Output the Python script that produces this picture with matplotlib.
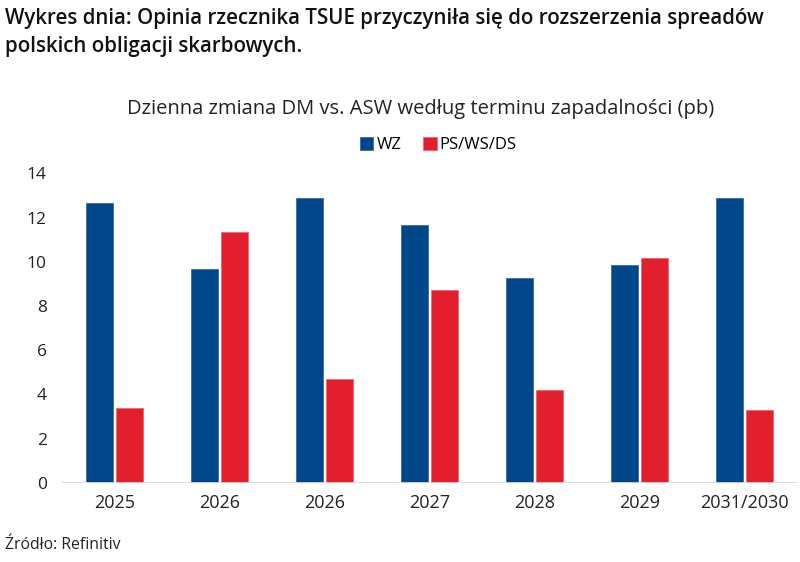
import matplotlib
matplotlib.use("Agg")
import matplotlib.pyplot as plt
from matplotlib import font_manager
import numpy as np

categories = ["2025", "2026", "2026", "2027", "2028", "2029", "2031/2030"]
wz = [12.67, 9.67, 12.87, 11.66, 9.28, 9.85, 12.87]
ps = [3.37, 11.33, 4.69, 8.70, 4.22, 10.15, 3.28]
series_names = ["WZ", "PS/WS/DS"]
yticks = [0, 2, 4, 6, 8, 10, 12, 14]

title = "Wykres dnia: Opinia rzecznika TSUE przyczyniła się do rozszerzenia spreadów\npolskich obligacji skarbowych."
subtitle = "Dzienna zmiana DM vs. ASW według terminu zapadalności (pb)"
source = "Źródło: Refinitiv"

avail = {f.name for f in font_manager.fontManager.ttflist}
fam = "DejaVu Sans"
for cand in ["Open Sans", "Roboto", "Lato"]:
    if cand in avail:
        fam = cand
        break
plt.rcParams['font.family'] = [fam, 'DejaVu Sans']

BLUE = "#00468B"
RED = "#E31F2E"

fig = plt.figure(figsize=(8, 5.62), dpi=100)
ax = fig.add_axes([0.0775, 0.141, 0.919, 0.5505])

x = np.arange(len(categories))
w = 0.254
off = 0.142
ax.bar(x - off, wz, width=w, color=BLUE, edgecolor="#3a6aa8", linewidth=0.6, zorder=2, label=series_names[0])
ax.bar(x + off, ps, width=w, color=RED, edgecolor="#ee6670", linewidth=0.6, zorder=2, label=series_names[1])
ax.axhline(0, color="#d9d9d9", lw=2, zorder=3)

ax.set_xlim(-0.5, len(categories) - 0.5)
ax.set_ylim(0, 14)
ax.set_yticks(yticks)
ax.set_yticklabels([str(t) for t in yticks])
ax.set_xticks(x)
ax.set_xticklabels(categories)
for s in ax.spines.values():
    s.set_visible(False)
ax.tick_params(axis='y', length=0, labelsize=12.5, colors="#222222", pad=11)
ax.tick_params(axis='x', length=0, labelsize=13, colors="#222222", pad=8)

fig.text(0.006, 0.985, title, fontsize=14.8, color="#111111", ha="left", va="top",
         linespacing=1.4, fontweight="semibold")
fig.text(0.526, 0.806, subtitle, fontsize=14.5, color="#222222", ha="center", va="center")

leg = fig.legend(loc="center", bbox_to_anchor=(0.548, 0.742), ncol=2, frameon=False,
                 fontsize=12, handlelength=0.8, handleheight=0.8, handletextpad=0.2,
                 columnspacing=1.3)
fig.text(0.006, 0.03, source, fontsize=11.3, color="#222222", ha="left", va="center")

fig.savefig("out.png", dpi=100)
